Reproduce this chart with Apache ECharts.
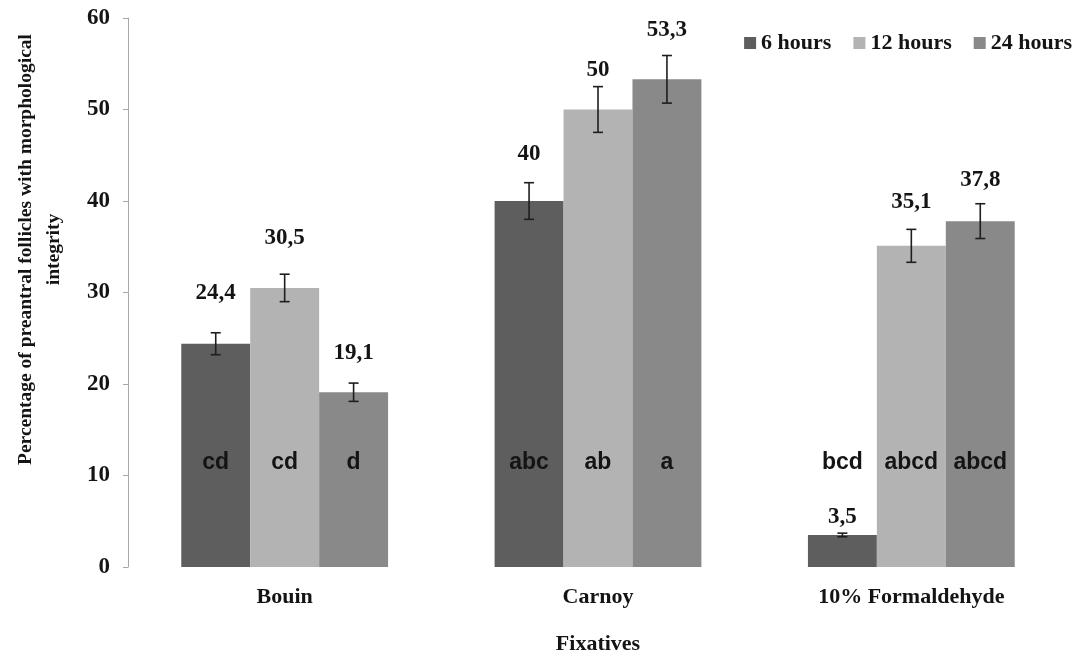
<!DOCTYPE html>
<html>
<head>
<meta charset="utf-8">
<script src="https://cdn.jsdelivr.net/npm/echarts@6/dist/echarts.min.js"></script>
<style>
  html, body { margin: 0; padding: 0; background: #ffffff; }
  #chart { width: 1083px; height: 657px; }
</style>
</head>
<body>
<div id="chart"></div>
<script>
// Fixative groups and exposure times
const fixatives = ['Bouin', 'Carnoy', '10% Formaldehyde'];
const seriesNames = ['6 hours', '12 hours', '24 hours'];

// Mean percentage of intact preantral follicles
const means6h  = [24.4, 40, 3.5];
const means12h = [30.5, 50, 35.1];
const means24h = [19.1, 53.3, 37.8];

// Error bar half-lengths
const errors6h  = [1.2, 2.0, 0.2];
const errors12h = [1.5, 2.5, 1.8];
const errors24h = [1.0, 2.6, 1.9];

// Significance letters
const letters6h  = ['cd', 'abc', 'bcd'];
const letters12h = ['cd', 'ab', 'abcd'];
const letters24h = ['d', 'a', 'abcd'];

// Layout: value level where the letters sit, and per-label lift (px) above the error cap
const LETTER_LEVEL = 11.4;
const labelLift = [[40, 29, 16], [36, 17, 27], [30, 25, 24]];
const CATEGORY_GAP = 0.34;
const colors = ['#5e5e5e', '#b3b3b3', '#898989'];

const serif = '"Liberation Serif", "Times New Roman", serif';
const sans = '"Liberation Sans", Arial, sans-serif';

function fmt(v) { return String(v).replace('.', ','); }

function barSeries(idx, values) {
  return {
    type: 'bar',
    name: seriesNames[idx],
    data: values,
    barGap: '0%',
    barCategoryGap: (CATEGORY_GAP * 100) + '%',
    itemStyle: { color: colors[idx] },
    emphasis: { disabled: true }
  };
}

function overlaySeries(idx, means, errs, letters) {
  return {
    type: 'custom',
    name: seriesNames[idx] + ' overlay',
    z: 5,
    silent: true,
    data: means.map((v, i) => [i, v, errs[i]]),
    encode: { x: 0, y: 1 },
    renderItem(params, api) {
      const i = api.value(0), v = api.value(1), e = api.value(2);
      const band = api.size([1, 0])[0];
      const bw = band * (1 - CATEGORY_GAP) / 3;
      const cx = api.coord([i, v])[0] + (idx - 1) * bw;
      const yTop = api.coord([i, v + e])[1];
      const yBot = api.coord([i, v - e])[1];
      const yLetter = api.coord([i, LETTER_LEVEL])[1];
      const st = { stroke: '#1e1e1e', lineWidth: 1.6 };
      return {
        type: 'group',
        children: [
          { type: 'line', shape: { x1: cx, y1: yTop, x2: cx, y2: yBot }, style: st },
          { type: 'line', shape: { x1: cx - 5, y1: yTop, x2: cx + 5, y2: yTop }, style: st },
          { type: 'line', shape: { x1: cx - 5, y1: yBot, x2: cx + 5, y2: yBot }, style: st },
          { type: 'text', style: {
              x: cx, y: yTop - labelLift[idx][i], text: fmt(v),
              align: 'center', verticalAlign: 'middle',
              font: 'bold 23px ' + serif, fill: '#141414' } },
          { type: 'text', style: {
              x: cx, y: yLetter, text: letters[i],
              align: 'center', verticalAlign: 'middle',
              font: 'bold 23px ' + sans, fill: '#141414' } }
        ]
      };
    }
  };
}

const chart = echarts.init(document.getElementById('chart'), null, { renderer: 'canvas' });
chart.setOption({
  backgroundColor: '#ffffff',
  animation: false,
  grid: { left: 128, right: 15, top: 18, bottom: 90, outerBoundsMode: 'none', containLabel: false },
  legend: {
    data: seriesNames,
    right: 6,
    top: 27,
    icon: 'rect',
    itemWidth: 12,
    itemHeight: 12,
    itemGap: 22,
    textStyle: { fontFamily: serif, fontWeight: 'bold', fontSize: 22, color: '#141414' }
  },
  xAxis: {
    type: 'category',
    data: fixatives,
    name: 'Fixatives',
    nameLocation: 'middle',
    nameGap: 66,
    nameTextStyle: { fontFamily: serif, fontWeight: 'bold', fontSize: 22, color: '#141414' },
    axisLine: { show: false },
    axisTick: { show: false },
    axisLabel: { margin: 19, fontFamily: serif, fontWeight: 'bold', fontSize: 22, color: '#141414' }
  },
  yAxis: {
    type: 'value',
    min: 0,
    max: 60,
    interval: 10,
    name: 'Percentage of preantral follicles with morphological\nintegrity',
    nameLocation: 'middle',
    nameGap: 60,
    nameTextStyle: {
      fontFamily: serif, fontWeight: 'bold', fontSize: 19.5, lineHeight: 28, color: '#141414',
      padding: [0, 0, 0, 86]
    },
    axisLine: { show: true, lineStyle: { color: '#a8a8a8', width: 1 } },
    axisTick: { show: true, length: 5, lineStyle: { color: '#a8a8a8' } },
    splitLine: { show: false },
    axisLabel: { margin: 18, fontFamily: serif, fontWeight: 'bold', fontSize: 23, color: '#141414' }
  },
  series: [
    barSeries(0, means6h),
    barSeries(1, means12h),
    barSeries(2, means24h),
    overlaySeries(0, means6h, errors6h, letters6h),
    overlaySeries(1, means12h, errors12h, letters12h),
    overlaySeries(2, means24h, errors24h, letters24h)
  ]
});
</script>
</body>
</html>
